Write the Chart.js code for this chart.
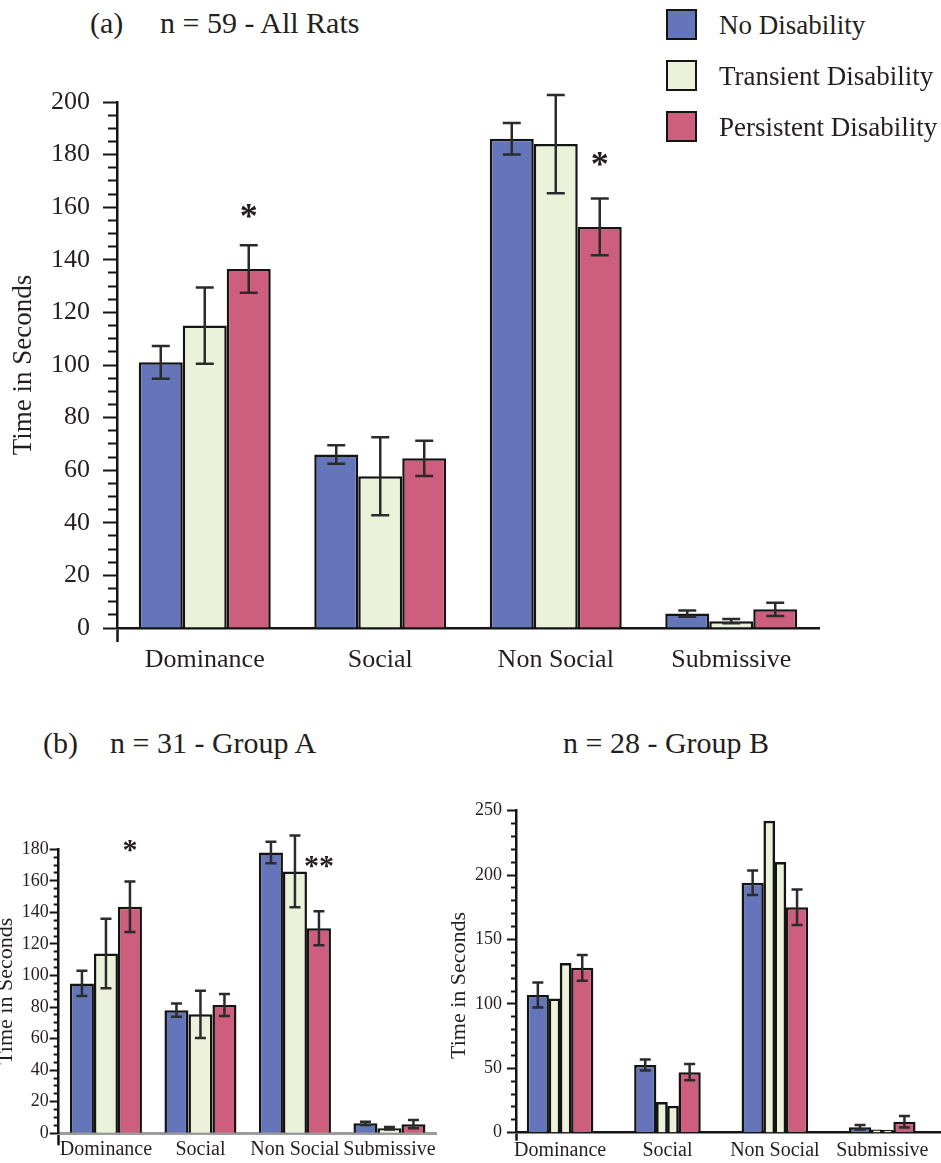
<!DOCTYPE html>
<html>
<head>
<meta charset="utf-8">
<title>Time in Seconds by behaviour and disability group</title>
<script src="https://cdn.jsdelivr.net/npm/chart.js@4/dist/chart.umd.min.js"></script>
<style>
  html, body { margin: 0; padding: 0; background: #fff; }
  body {
    width: 941px; height: 1163px; position: relative; overflow: hidden;
    font-family: 'Liberation Serif', 'Times New Roman', serif; color: #231f20;
  }
  canvas { position: absolute; }
  .title { position: absolute; white-space: nowrap; font-size: 30px; line-height: 30px; z-index: 2; }
  .leg-row { position: absolute; left: 666px; height: 31px; width: 275px; z-index: 2; }
  .leg-row .sw { position: absolute; left: 0; top: 0; width: 27px; height: 27px; border: 2px solid #141414; }
  .leg-row .lt { position: absolute; left: 53px; top: 3px; font-size: 27px; line-height: 27px; white-space: nowrap; }
</style>
</head>
<body>
<div class="title" style="left:90px; top:8px">(a)</div>
<div class="title" style="left:160px; top:8px">n = 59 - All Rats</div>
<div class="title" style="left:43px; top:728px">(b)</div>
<div class="title" style="left:110px; top:728px">n = 31 - Group A</div>
<div class="title" style="left:563px; top:728px">n = 28 - Group B</div>
<div id="legend"></div>

<canvas id="chartAll" width="941" height="610" style="left:0; top:70px; width:941px; height:610px"></canvas>
<canvas id="chartA" width="470" height="343" style="left:-12px; top:820px; width:470px; height:343px"></canvas>
<canvas id="chartB" width="501" height="373" style="left:440px; top:790px; width:501px; height:373px"></canvas>

<script>
// ---- categories and series ----
const categories = ['Dominance', 'Social', 'Non Social', 'Submissive'];
const seriesNames = ['No Disability', 'Transient Disability', 'Persistent Disability'];
const seriesColors = ['#6476b9', '#ecf2da', '#cd5e7d'];

// ---- (a) all rats, n = 59: means and error half-widths ----
const allNone = [101, 66, 186, 5.5];
const allNoneErr = [6.2, 3.5, 6, 1.2];
const allTransient = [115, 57.7, 184, 2.6];
const allTransientErr = [14.5, 14.8, 18.7, 0.8];
const allPersistent = [136.5, 64.5, 152.5, 7.1];
const allPersistentErr = [9, 6.7, 10.8, 2.5];

// ---- (b) group A, n = 31 ----
const aNone = [95, 78, 178, 6.3];
const aNoneErr = [8, 4.2, 6.8, 1];
const aTransient = [114, 75.4, 166, 3.2];
const aTransientErr = [22, 15, 22.7, 0.8];
const aPersistent = [143.6, 81.3, 130, 5.8];
const aPersistentErr = [16, 7, 10.8, 2.6];

// ---- (b) group B, n = 28 (two transient animals shown individually) ----
const bNone = [107, 52.6, 194, 4.2];
const bNoneErr = [9.7, 4.3, 9.5, 1.7];
const bTransient1 = [104, 23.6, 242, 2.2];
const bTransient2 = [131.5, 20.7, 210, 1.8];
const bPersistent = [128, 47, 175, 8.5];
const bPersistentErr = [10, 6.3, 13.8, 4.5];

// ---- significance markers: category, series, text, height in seconds ----
const allMarks = [
  { category: 'Dominance', series: 2, text: '*', level: 157.3 },
  { category: 'Non Social', series: 2, text: '*', level: 177.3 }
];
const aMarks = [
  { category: 'Dominance', series: 2, text: '*', level: 181 },
  { category: 'Non Social', series: 2, text: '**', level: 171.4 }
];

const INK = '#231f20';
const EDGE = '#141414';
const NONE = 'rgba(0,0,0,0)';
Chart.defaults.font.family = "'Liberation Serif', 'Times New Roman', serif";
Chart.defaults.color = INK;

// Vertical error bars drawn from each dataset's `errors` array
const errorBars = {
  id: 'errorBars',
  afterDatasetsDraw(chart, args, opts) {
    const ctx = chart.ctx;
    chart.data.datasets.forEach((ds, di) => {
      if (!ds.errors) return;
      const meta = chart.getDatasetMeta(di);
      const yScale = chart.scales[meta.yAxisID];
      ctx.save();
      ctx.strokeStyle = opts.color || INK;
      ctx.lineWidth = opts.width || 2;
      const half = (opts.cap || 10) / 2;
      meta.data.forEach((bar, i) => {
        const v = meta.controller.getParsed(i).y, e = ds.errors[i];
        if (v == null || e == null) return;
        const top = yScale.getPixelForValue(v + e);
        const bot = yScale.getPixelForValue(v - e);
        ctx.beginPath();
        ctx.moveTo(bar.x, top); ctx.lineTo(bar.x, bot);
        ctx.moveTo(bar.x - half, top); ctx.lineTo(bar.x + half, top);
        ctx.moveTo(bar.x - half, bot); ctx.lineTo(bar.x + half, bot);
        ctx.stroke();
      });
      ctx.restore();
    });
  }
};

// Asterisks placed over a series' bar at a given height on the value axis
const sigMarks = {
  id: 'sigMarks',
  afterDatasetsDraw(chart, args, opts) {
    if (!opts.marks) return;
    const ctx = chart.ctx;
    ctx.save();
    ctx.font = `bold ${opts.size}px 'Liberation Serif', serif`;
    ctx.fillStyle = INK;
    ctx.textAlign = 'center';
    ctx.textBaseline = 'middle';
    opts.marks.forEach(m => {
      const meta = chart.getDatasetMeta(m.series);
      const bar = meta.data[categories.indexOf(m.category)];
      const y = chart.scales[meta.yAxisID].getPixelForValue(m.level);
      ctx.fillText(m.text, bar.x, y + 0.13 * opts.size);
    });
    ctx.restore();
  }
};
Chart.register(errorBars, sigMarks);

// Value axis with long major ticks and short minor ticks
function valueAxis(o) {
  return {
    min: 0, max: o.max,
    border: { color: EDGE, width: 2.5 },
    grid: {
      drawOnChartArea: false, drawTicks: true,
      tickLength: o.tickLen, tickWidth: 2, tickColor: EDGE,
      tickBorderDash: ctx => (ctx.tick && ctx.tick.value % o.major === 0) ? [] : [0, o.minorGap, 60, 0]
    },
    ticks: {
      stepSize: o.minor, autoSkip: false, padding: o.labelPad,
      font: { size: o.fontSize }, color: INK,
      callback: v => (v % o.major === 0 ? v : '')
    },
    title: {
      display: true, text: o.titleText || 'Time in Seconds', color: INK,
      font: { size: o.titleSize }, padding: { top: o.titlePad, bottom: 0 }
    },
    afterFit: s => { s.width = o.width; s.paddingTop = 0; s.paddingBottom = 0; }
  };
}

// Category axis; only the left grid tick is drawn, continuing the value axis downwards
function categoryAxis(o) {
  return {
    border: { color: o.borderColor || EDGE, width: o.borderWidth || 2.5 },
    grid: {
      drawOnChartArea: false, drawTicks: true,
      tickLength: o.tickLen, tickWidth: 2.5,
      tickColor: ctx => (ctx.index === 0 ? EDGE : NONE)
    },
    ticks: { font: { size: o.fontSize }, color: INK, padding: o.pad, maxRotation: 0, autoSkip: false },
    afterFit: s => { s.height = o.height; s.paddingLeft = 0; s.paddingRight = 0; }
  };
}

function barSet(label, data, colorIdx, errors, extra) {
  return Object.assign({
    label, data, errors,
    backgroundColor: seriesColors[colorIdx],
    borderColor: EDGE, borderWidth: 2.5
  }, extra || {});
}

const common = {
  responsive: false, animation: false, devicePixelRatio: 1,
  events: []
};

// ---- (a) all rats ----
new Chart(document.getElementById('chartAll'), {
  type: 'bar',
  data: {
    labels: categories,
    datasets: [
      barSet(seriesNames[0], allNone, 0, allNoneErr),
      barSet(seriesNames[1], allTransient, 1, allTransientErr),
      barSet(seriesNames[2], allPersistent, 2, allPersistentErr)
    ]
  },
  options: Object.assign({}, common, {
    layout: { padding: { top: 32, right: 122, bottom: 0, left: 0 } },
    datasets: { bar: { categoryPercentage: 0.752, barPercentage: 1 } },
    scales: {
      x: categoryAxis({ fontSize: 26, tickLen: 14, pad: 3, height: 52 }),
      y: valueAxis({ max: 200, minor: 5, major: 20, fontSize: 26, tickLen: 14, minorGap: 5,
                     labelPad: 13, titleSize: 27, titlePad: 7.8, width: 117 })
    },
    plugins: {
      legend: { display: false }, tooltip: { enabled: false },
      errorBars: { color: '#2b2b2b', width: 2.5, cap: 18 },
      sigMarks: { marks: allMarks, size: 36 }
    }
  })
});

// ---- (b) group A ----
new Chart(document.getElementById('chartA'), {
  type: 'bar',
  data: {
    labels: categories,
    datasets: [
      barSet(seriesNames[0], aNone, 0, aNoneErr),
      barSet(seriesNames[1], aTransient, 1, aTransientErr),
      barSet(seriesNames[2], aPersistent, 2, aPersistentErr)
    ]
  },
  options: Object.assign({}, common, {
    layout: { padding: { top: 29.3, right: 21.3, bottom: 0, left: 0 } },
    datasets: { bar: { categoryPercentage: 0.762, barPercentage: 1 } },
    scales: {
      x: categoryAxis({ fontSize: 20, tickLen: 12, pad: -8, height: 29.7, borderColor: '#9c9c9c', borderWidth: 3 }),
      y: valueAxis({ max: 180, minor: 5, major: 20, fontSize: 18, tickLen: 9, minorGap: 4,
                     labelPad: 1, titleSize: 22, titlePad: 4.8, width: 70.7 })
    },
    plugins: {
      legend: { display: false }, tooltip: { enabled: false },
      errorBars: { color: '#2b2b2b', width: 2.5, cap: 11 },
      sigMarks: { marks: aMarks, size: 30 }
    }
  })
});

// ---- (b) group B ----
// Categories sit at whole numbers on a linear axis; inside each group the
// transient slot is split into two half-width bars, one per animal.
const groupShareB = 0.62;            // share of a category step filled by a group
const barUnitB = groupShareB / 3;    // width of one full bar, in category steps
const slotB = {
  none: -barUnitB,
  transient1: -barUnitB / 4,
  transient2: barUnitB / 4,
  persistent: barUnitB
};
const placeB = (values, offset) => values.map((v, i) => ({ x: i + offset, y: v }));

// bar widths are multiples of the narrowest spacing between bar positions (half a bar)
const wideBar = { grouped: false, categoryPercentage: 1, barPercentage: 2 };
const halfBar = { grouped: false, categoryPercentage: 1, barPercentage: 1 };

new Chart(document.getElementById('chartB'), {
  type: 'bar',
  data: {
    datasets: [
      barSet(seriesNames[0], placeB(bNone, slotB.none), 0, bNoneErr, wideBar),
      barSet(seriesNames[1], placeB(bTransient1, slotB.transient1), 1, null, halfBar),
      barSet(seriesNames[1], placeB(bTransient2, slotB.transient2), 1, null, halfBar),
      barSet(seriesNames[2], placeB(bPersistent, slotB.persistent), 2, bPersistentErr, wideBar)
    ]
  },
  options: Object.assign({}, common, {
    layout: { padding: { top: 20.7, right: 0, bottom: 0, left: 0 } },
    scales: {
      x: {
        type: 'linear', min: -0.41, max: 3.547, offset: false, bounds: 'data',
        border: { color: EDGE, width: 2.5 },
        grid: {
          drawOnChartArea: false, drawTicks: true, offset: false,
          tickLength: 8, tickWidth: 2.5,
          // only the axis-origin tick is drawn, extending the value axis below the baseline
          tickColor: ctx => (ctx.tick && !Number.isInteger(ctx.tick.value) ? EDGE : NONE)
        },
        ticks: { autoSkip: false, maxRotation: 0, padding: -1.5, font: { size: 20 }, color: INK,
                 callback: v => (Number.isInteger(v) && categories[v] !== undefined ? categories[v] : '') },
        afterBuildTicks: s => {
          s.ticks = [{ value: s.min }].concat(categories.map((c, i) => ({ value: i })));
        },
        afterFit: s => { s.height = 30.3; s.paddingLeft = 0; s.paddingRight = 0; }
      },
      y: valueAxis({ max: 250, minor: 10, major: 50, fontSize: 18, tickLen: 9, minorGap: 4,
                     labelPad: 5, titleSize: 22, titlePad: 6.1, width: 76,
                     titleText: 'Time in Seconds     ' })
    },
    plugins: {
      legend: { display: false }, tooltip: { enabled: false },
      errorBars: { color: '#2b2b2b', width: 2.5, cap: 11 },
      sigMarks: {}
    }
  })
});

// ---- legend for panel (a) ----
const legendEl = document.getElementById('legend');
seriesNames.forEach((name, i) => {
  const row = document.createElement('div');
  row.className = 'leg-row';
  row.style.top = (9 + 51 * i) + 'px';
  const sw = document.createElement('span');
  sw.className = 'sw';
  sw.style.background = seriesColors[i];
  const lt = document.createElement('span');
  lt.className = 'lt';
  lt.textContent = name;
  row.appendChild(sw);
  row.appendChild(lt);
  legendEl.appendChild(row);
});
</script>
</body>
</html>
